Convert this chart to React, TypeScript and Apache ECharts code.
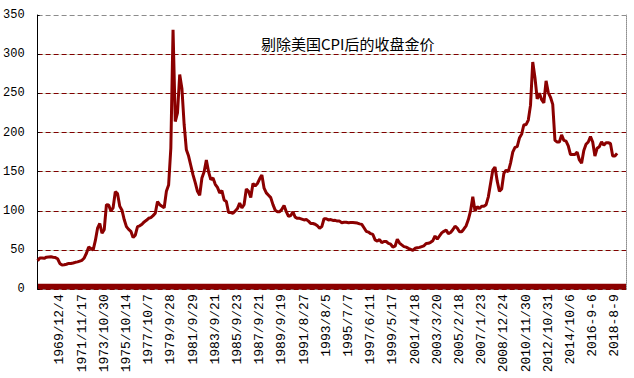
import React, { useEffect, useRef } from "react";
import * as echarts from "echarts";

const chartTitle = "剔除美国CPI后的收盘金价";

const tickLabels = [
  "1969/12/4", "1971/11/17", "1973/10/30", "1975/10/14", "1977/10/7", "1979/9/28",
  "1981/9/29", "1983/9/21", "1985/9/23", "1987/9/21", "1989/9/19", "1991/8/27",
  "1993/8/5", "1995/7/7", "1997/6/11", "1999/5/17", "2001/4/18", "2003/3/20",
  "2005/2/18", "2007/1/23", "2008/12/24", "2010/11/30", "2012/10/31", "2014/10/6",
  "2016-9-6", "2018-8-9",
];

// real (CPI-deflated) gold closing price, sampled along the series
const prices = [
  36.5, 40, 40, 39.5, 41, 41.3, 41.6, 41, 40.5, 39,
  33, 31, 31.3, 32, 33, 33, 33.5, 34.4, 35, 36,
  37, 40, 46, 54, 52, 50, 62, 78, 84, 71.5,
  76, 108, 107.6, 100, 104, 124.5, 122, 106, 101, 89,
  80, 76.5, 74, 66, 69, 80, 81, 83, 86, 88,
  90.6, 91.5, 94, 97, 112, 108, 106, 104, 125, 133,
  180, 331, 214, 225, 274, 256, 210, 178, 170, 158,
  146, 136, 125, 120, 142, 150, 165, 150, 140, 142,
  134, 130, 123, 126, 114, 112, 98, 98, 97, 100,
  103, 110, 104, 108, 128, 125, 117, 135, 132, 135,
  141, 146, 129, 123, 120, 117, 108, 101, 99, 99,
  102, 107, 99, 93, 94, 99, 92, 90.5, 90.5, 89.5,
  88.5, 89, 87, 84, 84, 83, 81, 78, 80, 90,
  90, 88.5, 89, 87.8, 88, 87, 87, 85, 85.5, 85.5,
  85, 85.3, 85.2, 85, 84.5, 83.5, 82.8, 78.5, 74, 73,
  71, 70, 63, 61.5, 63.5, 59.5, 61, 61, 58.7, 57.5,
  54, 55, 64, 59, 56.7, 54.5, 53.8, 52.3, 51, 49.7,
  52.3, 53, 53.5, 54.5, 55.5, 58.5, 58.7, 60, 62, 68,
  64, 68, 72, 74, 75.5, 71, 72.5, 76, 80.5, 78,
  73.5, 73.5, 77, 81, 89, 100, 118, 100, 105.4, 103,
  106, 106, 108, 118, 135, 152, 156, 138, 125, 128,
  148, 152, 150, 161, 175, 181, 182, 193, 198, 210,
  210, 216, 235, 290, 270, 243, 250, 242, 238, 266,
  251, 245, 236, 190, 188, 188, 197, 190, 189, 183,
  172, 172, 172, 175, 165, 161, 177, 185, 188, 195,
  188, 170, 180, 182, 188, 184, 187, 187, 186, 170,
  170, 173.5,
];

const yTicks = [0, 50, 100, 150, 200, 250, 300, 350];

const POINTS_PER_LABEL = 10;
const FIRST_LABEL_INDEX = 10;
const TOTAL_CATEGORIES = 266;

export default function App() {
  const ref = useRef<HTMLDivElement>(null);

  useEffect(() => {
    if (!ref.current) return;
    const chart = echarts.init(ref.current, undefined, { renderer: "svg" });

    const categories: string[] = [];
    const labelIdx = new Set<number>();
    for (let i = 0; i < TOTAL_CATEGORIES; i++) {
      const k = (i - FIRST_LABEL_INDEX) / POINTS_PER_LABEL;
      if (i >= FIRST_LABEL_INDEX && Number.isInteger(k) && k < tickLabels.length) {
        categories.push(tickLabels[k]);
        labelIdx.add(i);
      } else {
        categories.push("#" + i);
      }
    }

    const last = yTicks.length - 1;
    const gridColors = yTicks.map((v, i) => (i === last ? "#8c8c8c" : "#800000"));
    const gapColors = yTicks.map((v, i) => (i === last ? "rgba(0,0,0,0)" : "#cfe8cf"));

    chart.setOption({
      animation: false,
      backgroundColor: "#ffffff",
      title: {
        text: chartTitle,
        left: 256,
        top: 31,
        textStyle: {
          fontSize: 15,
          fontWeight: "normal",
          color: "#000",
          fontFamily: "'Noto Sans CJK SC', 'Liberation Mono', monospace",
        },
      },
      grid: { left: 35, right: 8, top: 15, bottom: 88.7, containLabel: false },
      xAxis: [
        {
          type: "category",
          data: categories,
          boundaryGap: false,
          axisLine: { show: false },
          axisTick: { show: false },
          axisLabel: {
            interval: (idx: number) => labelIdx.has(idx),
            rotate: 90,
            margin: 5,
            color: "#000",
            fontSize: 13,
            fontFamily: "'Liberation Mono', monospace",
          },
          splitLine: { show: false },
        },
        {
          type: "category",
          data: categories,
          boundaryGap: false,
          position: "top",
          axisLine: { show: true, lineStyle: { color: "#8c8c8c", type: "dotted", width: 1 } },
          axisTick: { show: false },
          axisLabel: { show: false },
          splitLine: { show: false },
        },
      ],
      yAxis: [
        {
          type: "value",
          min: 0,
          max: 350,
          interval: 50,
          z: 1,
          axisLine: { show: true, lineStyle: { color: "#000", width: 1 } },
          axisTick: { show: true, inside: true, length: 2, lineStyle: { color: "#000" } },
          axisLabel: {
            margin: 13,
            color: "#000",
            fontSize: 12,
            fontFamily: "'Liberation Mono', monospace",
          },
          splitLine: {
            show: true,
            lineStyle: { color: gridColors, type: [5, 3], width: 1 },
          },
        },
        {
          type: "value",
          min: 0,
          max: 350,
          interval: 50,
          position: "right",
          z: 0,
          axisLine: { show: true, lineStyle: { color: "#8c8c8c", type: "dotted", width: 1 } },
          axisTick: { show: false },
          axisLabel: { show: false },
          splitLine: {
            show: true,
            lineStyle: { color: gapColors, type: "solid", width: 1 },
          },
        },
      ],
      series: [
        {
          type: "line",
          data: prices,
          xAxisIndex: 0,
          yAxisIndex: 0,
          showSymbol: false,
          symbol: "none",
          lineStyle: { color: "#8b0000", width: 3 },
          itemStyle: { color: "#8b0000" },
          z: 3,
          markArea: {
            silent: true,
            itemStyle: { color: "#8b0000" },
            data: [[{ yAxis: 0 }, { yAxis: 7 }]],
          },
        },
      ],
    });

    return () => chart.dispose();
  }, []);

  return (
    <div
      ref={ref}
      style={{ position: "absolute", left: 0, top: 0, width: 634, height: 378, background: "#fff" }}
    />
  );
}
